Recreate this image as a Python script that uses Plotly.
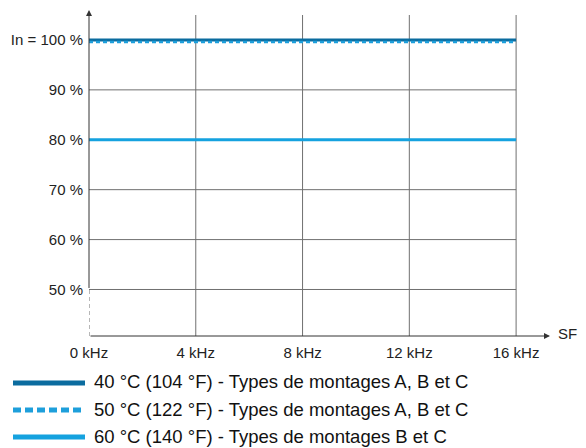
import plotly.graph_objects as go

# Derating curves: nominal current vs switching frequency
freq_khz = [0, 16]
current_40c = [100, 100]
current_50c = [99.6, 99.6]
current_60c = [80, 80]

x_ticks = [0, 4, 8, 12, 16]
x_labels = ["0 kHz", "4 kHz", "8 kHz", "12 kHz", "16 kHz"]
y_ticks = [50, 60, 70, 80, 90, 100]
y_labels = ["50 %", "60 %", "70 %", "80 %", "90 %", "In = 100 %"]

series_names = [
    "40 °C (104 °F) - Types de montages A, B et C",
    "50 °C (122 °F) - Types de montages A, B et C",
    "60 °C (140 °F) - Types de montages B et C",
]
series_values = [current_40c, current_50c, current_60c]
series_colors = ["#0b6c9f", "#1e9fdb", "#15a2df"]
series_dash = ["solid", "dash", "solid"]

X_MAX = 17.27
Y_MIN, Y_MAX = 40.68, 105.0
GRID = "#707070"
FONT = "Liberation Sans, Arial, sans-serif"

fig = go.Figure()

for name, ys, color, dash in zip(series_names, series_values, series_colors, series_dash):
    fig.add_trace(go.Scatter(
        x=freq_khz, y=ys, mode="lines", name=name,
        line=dict(color=color, width=3 if dash == "solid" else 2.5,
                  dash="4px,3px" if dash == "dash" else "solid"),
        showlegend=False,
    ))

shapes = []
# horizontal grid lines stop at the last frequency, with small ticks left of the axis
for yv in y_ticks:
    shapes.append(dict(type="line", xref="x", yref="y", x0=0, x1=16, y0=yv, y1=yv,
                       line=dict(color=GRID, width=1), layer="below"))
    shapes.append(dict(type="line", xref="x", yref="y", x0=-0.19, x1=0, y0=yv, y1=yv,
                       line=dict(color=GRID, width=1), layer="below"))
# vertical grid lines
for xv in x_ticks[1:]:
    shapes.append(dict(type="line", xref="x", yref="y", x0=xv, x1=xv, y0=Y_MIN, y1=Y_MAX,
                       line=dict(color=GRID, width=1), layer="below"))
# broken part of the y axis
shapes.append(dict(type="line", xref="x", yref="y", x0=0, x1=0, y0=Y_MIN, y1=50,
                   line=dict(color=GRID, width=1, dash="4px,3px"), layer="below"))

annotations = [
    # y axis with arrow
    dict(x=0, y=106.0, ax=0, ay=50, xref="x", yref="y", axref="x", ayref="y",
         showarrow=True, arrowhead=2, arrowsize=1.2, arrowwidth=1, arrowcolor="#333",
         text=""),
    # x axis with arrow
    dict(x=X_MAX, y=Y_MIN, ax=0, ay=Y_MIN, xref="x", yref="y", axref="x", ayref="y",
         showarrow=True, arrowhead=2, arrowsize=1.2, arrowwidth=1, arrowcolor="#333",
         text=""),
    dict(x=1, y=0, xref="paper", yref="paper", xanchor="left", yanchor="middle",
         xshift=6, yshift=3, text="SF", showarrow=False,
         font=dict(family=FONT, size=15, color="#222")),
]

# legend drawn below the chart
plot_l, plot_w, plot_b, plot_h = 89, 461, 336, 321
for i, (name, color, dash) in enumerate(zip(series_names, series_colors, series_dash)):
    py = 383 + 27 * i
    yp = (plot_b - py) / plot_h
    shapes.append(dict(type="line", xref="paper", yref="paper",
                       x0=(13 - plot_l) / plot_w, x1=(85 - plot_l) / plot_w, y0=yp, y1=yp,
                       line=dict(color=color, width=5,
                                 dash="8px,4px" if dash == "dash" else "solid")))
    annotations.append(dict(x=(92 - plot_l) / plot_w, y=yp, xref="paper", yref="paper",
                            xanchor="left", yanchor="middle", yshift=1, text=name,
                            showarrow=False,
                            font=dict(family=FONT, size=18.5, color="#111")))

fig.update_layout(
    width=586, height=448,
    margin=dict(l=89, r=36, t=15, b=112),
    paper_bgcolor="white", plot_bgcolor="white",
    shapes=shapes, annotations=annotations,
    xaxis=dict(range=[0, X_MAX], tickvals=x_ticks, ticktext=x_labels,
               showgrid=False, zeroline=False, showline=False, ticks="",
               ticklabelstandoff=6,
               tickfont=dict(family=FONT, size=15, color="#222")),
    yaxis=dict(range=[Y_MIN, Y_MAX], tickvals=y_ticks, ticktext=y_labels,
               showgrid=False, zeroline=False, showline=False, ticks="",
               ticklabelstandoff=5,
               tickfont=dict(family=FONT, size=15, color="#222")),
)

fig.write_html("out.html")
